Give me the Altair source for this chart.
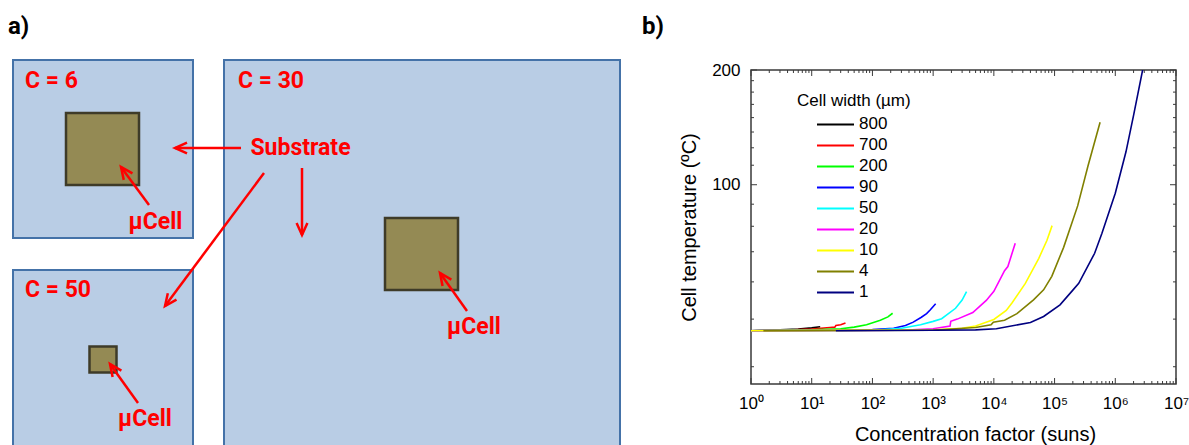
import altair as alt
import pandas as pd
import numpy as np

# ---------------- panel b: curves ----------------
widths = ["800", "700", "200", "90", "50", "20", "10", "4", "1"]
line_colors = ["#000000", "#FF0000", "#00FF00", "#0000FF", "#00FFFF",
               "#FF00FF", "#FFFF00", "#808000", "#000080"]

conc_800 = [1, 3, 6, 10, 13.8]
temp_800 = [41.4, 41.6, 41.8, 42.1, 42.4]
conc_700 = [1, 5, 10, 20, 24, 25, 30, 36]
temp_700 = [41.4, 41.6, 41.8, 42.2, 42.3, 42.7, 42.9, 43.4]
conc_200 = [1, 10, 30, 50, 80, 135, 180, 215]
temp_200 = [41.4, 41.6, 41.9, 42.3, 42.9, 44.1, 45.0, 46.0]
conc_90 = [1, 30, 100, 224, 350, 470, 640, 780, 900, 1100]
temp_90 = [41.4, 41.5, 41.7, 42.0, 42.7, 43.6, 44.9, 45.9, 47.0, 48.7]
conc_50 = [1, 100, 300, 620, 1000, 1380, 2340, 3000, 3550]
temp_50 = [41.4, 41.5, 42.0, 42.9, 43.8, 44.5, 47.4, 49.8, 52.4]
conc_20 = [1, 300, 1000, 1900, 1950, 2500, 4500, 7500, 10000, 15000, 17000, 22500]
temp_20 = [41.4, 41.5, 41.9, 42.6, 43.8, 44.4, 46.2, 49.7, 52.5, 59.5, 61.0, 70.2]
conc_10 = [1, 1000, 3000, 5000, 10000, 16000, 20000, 33000, 55000, 75000, 91000]
temp_10 = [41.4, 41.6, 42.0, 42.6, 44.3, 46.8, 49.0, 55.1, 64.1, 71.5, 78.1]
conc_4 = [1.6, 1000, 5000, 9000, 9800, 15000, 24000, 45000, 66000, 90000,
          141000, 240000, 355000, 562000]
temp_4 = [41.4, 41.5, 42.2, 42.9, 43.6, 44.1, 45.9, 49.9, 53.0, 57.5,
          68.5, 88.0, 112.0, 145.8]
conc_1 = [25, 1000, 5000, 11000, 40000, 66000, 123000, 200000, 250000,
          457000, 603000, 1000000, 1500000, 2000000, 2820000]
temp_1 = [41.4, 41.5, 41.6, 41.9, 43.5, 45.1, 48.4, 52.9, 55.1,
          66.1, 74.6, 95.0, 122.0, 152.0, 200.0]

series_conc = [conc_800, conc_700, conc_200, conc_90, conc_50, conc_20, conc_10, conc_4, conc_1]
series_temp = [temp_800, temp_700, temp_200, temp_90, temp_50, temp_20, temp_10, temp_4, temp_1]

x_major = [1, 10, 100, 1000, 10000, 100000, 1000000, 10000000]
x_minor = [m * d for d in x_major[:-1] for m in range(2, 10)]
y_major = [100, 200]
y_minor = [33.3, 44.4, 55.6, 66.7, 77.8, 88.9, 112.5, 125, 137.5, 150, 162.5, 175, 187.5]

# ---------------- panel a: diagram ----------------
box_left = [13, 224, 13]
box_top = [60, 60, 270]
box_right = [193, 620, 193]
box_bottom = [238, 452, 452]

cell_left = [66, 385, 89.5]
cell_top = [113, 218, 346.5]
cell_right = [139, 458, 116.5]
cell_bottom = [185, 290, 372.5]

arrow_x0 = [241, 302, 264, 149, 138, 467]
arrow_y0 = [148, 168, 173, 205, 403, 311]
arrow_x1 = [175, 302, 165, 121, 110, 440]
arrow_y1 = [148, 235, 306, 167, 364, 273]

c_labels = ["C = 6", "C = 30", "C = 50"]
c_x = [25, 238, 25]
c_y = [81, 81, 290]

callouts = ["Substrate", "µCell", "µCell", "µCell"]
callout_x = [300.5, 155.5, 474, 145]
callout_y = [148, 222, 327, 419]

tags = ["a)", "b)"]
tag_x = [8, 642]
tag_y = [27, 27]

# ---------------- build tables ----------------
rows = []
for w, cs, ts in zip(widths, series_conc, series_temp):
    for c, t in zip(cs, ts):
        rows.append({"width": w, "conc": c, "temp": t})
curves = pd.DataFrame(rows)

box_df = pd.DataFrame({"x0": box_left, "y0": box_top, "x1": box_right, "y1": box_bottom})
cell_df = pd.DataFrame({"x0": cell_left, "y0": cell_top, "x1": cell_right, "y1": cell_bottom})
arr_df = pd.DataFrame({"x0": arrow_x0, "y0": arrow_y0, "x1": arrow_x1, "y1": arrow_y1})
arr_df["ang"] = (np.degrees(np.arctan2(arr_df.x1 - arr_df.x0, -(arr_df.y1 - arr_df.y0))) + 360) % 360
c_df = pd.DataFrame({"t": c_labels, "x": c_x, "y": c_y})
call_df = pd.DataFrame({"t": callouts, "x": callout_x, "y": callout_y})
tag_df = pd.DataFrame({"t": tags, "x": tag_x, "y": tag_y})

# ---------------- geometry ----------------
W, H = 425, 314
PAD = {"left": 751, "top": 70, "right": 13, "bottom": 61}
dx = alt.Scale(domain=[0, 1189], range=[-751, 438], nice=False, zero=False)
dy = alt.Scale(domain=[0, 445], range=[-70, 375], nice=False, zero=False)
xs = alt.Scale(type="log", domain=[1, 1e7], nice=False)
ys = alt.Scale(type="log", domain=[30, 200], nice=False)

FRAME = "#3a3a3a"
RED = "#FF0000"
AFONT = "Roboto"
PFONT = "Liberation Sans"


def dX(f):
    return alt.X(f, type="quantitative", scale=dx, axis=None)


def dY(f):
    return alt.Y(f, type="quantitative", scale=dy, axis=None)


boxes = alt.Chart(box_df).mark_rect(fill="#B9CDE5", stroke="#4472A8", strokeWidth=2).encode(
    x=dX("x0"), x2="x1", y=dY("y0"), y2="y1")
cells = alt.Chart(cell_df).mark_rect(fill="#948A54", stroke="#3E3B28", strokeWidth=2.5).encode(
    x=dX("x0"), x2="x1", y=dY("y0"), y2="y1")
shafts = alt.Chart(arr_df).mark_rule(color=RED, strokeWidth=2.5).encode(
    x=dX("x0"), x2="x1", y=dY("y0"), y2="y1")
heads = alt.Chart(arr_df).mark_point(
    shape="M-0.45,1L0,0L0.45,1", size=576, filled=False, stroke=RED,
    strokeWidth=2.5, opacity=1).encode(
    x=dX("x1"), y=dY("y1"), angle=alt.Angle("ang:Q", scale=None))
c_text = alt.Chart(c_df).mark_text(align="left", baseline="middle", font=AFONT,
                                   fontSize=23, fontWeight="bold", color=RED).encode(
    x=dX("x"), y=dY("y"), text="t:N")
call_text = alt.Chart(call_df).mark_text(align="center", baseline="middle", font=AFONT,
                                         fontSize=23, fontWeight="bold", color=RED).encode(
    x=dX("x"), y=dY("y"), text="t:N")
tag_text = alt.Chart(tag_df).mark_text(align="left", baseline="middle", font=AFONT,
                                       fontSize=24, fontWeight="bold", color="black").encode(
    x=dX("x"), y=dY("y"), text="t:N")

sup = "['\u2070','\u00b9','\u00b2','\u00b3','\u2074','\u2075','\u2076','\u2077']"
x_axis = alt.Axis(values=x_major, labelExpr="'10' + " + sup + "[round(log(datum.value)/LN10)]",
                  title="Concentration factor (suns)", ticks=False, domain=False, grid=False,
                  labelFont=PFONT, labelFontSize=17, labelColor="black", labelPadding=11,
                  labelFlush=False, labelOverlap=False,
                  titleFont=PFONT, titleFontSize=20, titleFontWeight="normal",
                  titleColor="black", titlePadding=13, titleX=224)
y_axis = alt.Axis(values=y_major, format="d", title="Cell temperature (\u00baC)",
                  ticks=False, domain=False, grid=False,
                  labelFont=PFONT, labelFontSize=17, labelColor="black", labelPadding=11,
                  labelFlush=False, labelOverlap=False,
                  titleFont=PFONT, titleFontSize=20, titleFontWeight="normal",
                  titleColor="black", titlePadding=12)
legend = alt.Legend(title="Cell width (\u00b5m)", orient="none", legendX=46, legendY=23,
                    symbolType="stroke", symbolSize=1369, symbolStrokeWidth=2,
                    symbolOffset=19, labelFont=PFONT, labelFontSize=17, labelColor="black",
                    titleFont=PFONT, titleFontSize=17, titleFontWeight="normal",
                    titleColor="black", clipHeight=18.8, rowPadding=2, padding=0,
                    titlePadding=5, labelOffset=4)

lines = alt.Chart(curves).mark_line(strokeWidth=1.6, clip=True).encode(
    x=alt.X("conc:Q", scale=xs, axis=x_axis),
    y=alt.Y("temp:Q", scale=ys, axis=y_axis),
    color=alt.Color("width:N", scale=alt.Scale(domain=widths, range=line_colors),
                    legend=legend),
)

xt_major = pd.DataFrame({"v": x_major})
xt_minor = pd.DataFrame({"v": x_minor})
yt_major = pd.DataFrame({"v": y_major})
yt_minor = pd.DataFrame({"v": y_minor})


def xticks(df, length):
    base = alt.Chart(df).mark_rule(color=FRAME, strokeWidth=1)
    xe = alt.X("v:Q", scale=xs, axis=None)
    return [base.encode(x=xe, y=alt.value(H), y2=alt.value(H - length)),
            base.encode(x=xe, y=alt.value(0), y2=alt.value(length))]


def yticks(df, length):
    base = alt.Chart(df).mark_rule(color=FRAME, strokeWidth=1)
    ye = alt.Y("v:Q", scale=ys, axis=None)
    return [base.encode(y=ye, x=alt.value(0), x2=alt.value(length)),
            base.encode(y=ye, x=alt.value(W), x2=alt.value(W - length))]


tick_layers = xticks(xt_major, 6) + xticks(xt_minor, 3) + yticks(yt_major, 6) + yticks(yt_minor, 3)

chart = alt.layer(
    boxes, cells, shafts, heads, c_text, call_text, tag_text,
    *tick_layers, lines
).resolve_scale(
    x="independent", y="independent"
).properties(
    width=W, height=H, padding=PAD, autosize=alt.AutoSizeParams(type="none"),
    background="white"
).configure_view(stroke=FRAME, strokeWidth=1.5)

chart.save("out.html", embed_options={"renderer": "svg", "actions": False})
